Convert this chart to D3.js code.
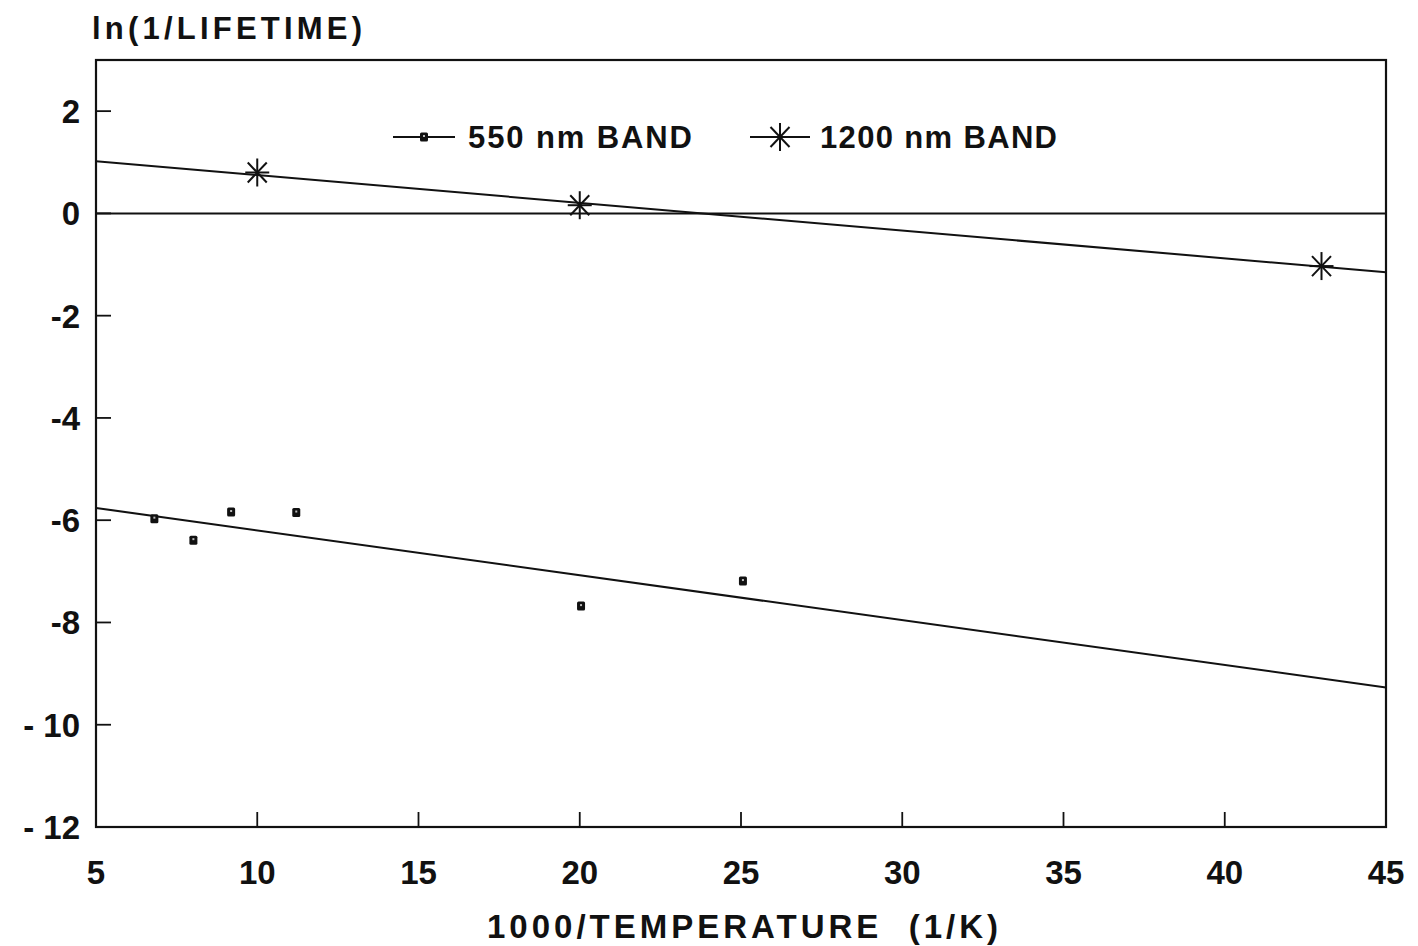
<!DOCTYPE html>
<html>
<head>
<meta charset="utf-8">
<script src="https://cdn.jsdelivr.net/npm/d3@7/dist/d3.min.js"></script>
<style>
  body { margin: 0; background: #fff; }
  text { font-family: "Liberation Sans", Arial, sans-serif; fill: #111; }
</style>
</head>
<body>
<div id="chart"></div>
<script>
'use strict';
// 550 nm band, measured points
var x550 = [6.81, 8.02, 9.19, 11.21, 20.04, 25.06];
var y550 = [-5.97, -6.39, -5.84, -5.85, -7.68, -7.19];
// fit line end values (at x = 5 and x = 45)
var fit550 = [-5.76, -9.27];

// 1200 nm band
var x1200 = [10, 20, 43];
var y1200 = [0.80, 0.16, -1.03];
var fit1200 = [1.02, -1.15];

var fitX = [5, 45];
var xTicks = [5, 10, 15, 20, 25, 30, 35, 40, 45];
var yTicks = [2, 0, -2, -4, -6, -8, -10, -12];
var yTickLabels = ["2", "0", "-2", "-4", "-6", "-8", "- 10", "- 12"];

var width = 1418, height = 946;
var pLeft = 96, pRight = 1386, pTop = 60, pBottom = 827;

var svg = d3.select("#chart").append("svg")
    .attr("width", width)
    .attr("height", height);

var x = d3.scaleLinear().domain([5, 45]).range([pLeft, pRight]);
var y = d3.scaleLinear().domain([-12, 3]).range([pBottom, pTop]);

svg.append("defs").append("clipPath").attr("id", "plot")
    .append("rect")
    .attr("x", pLeft).attr("y", pTop)
    .attr("width", pRight - pLeft).attr("height", pBottom - pTop);

// frame
svg.append("rect")
    .attr("x", pLeft).attr("y", pTop)
    .attr("width", pRight - pLeft).attr("height", pBottom - pTop)
    .attr("fill", "none")
    .attr("stroke", "#111")
    .attr("stroke-width", 2.2);

// y ticks, inside
svg.selectAll(".ytick")
    .data(yTicks.filter(function (d) { return d > -12; }))
    .enter().append("line")
    .attr("class", "ytick")
    .attr("x1", pLeft).attr("x2", pLeft + 15)
    .attr("y1", function (d) { return y(d); })
    .attr("y2", function (d) { return y(d); })
    .attr("stroke", "#111").attr("stroke-width", 1.8);

// x ticks, inside
svg.selectAll(".xtick")
    .data(xTicks.filter(function (d) { return d > 5 && d < 45; }))
    .enter().append("line")
    .attr("class", "xtick")
    .attr("x1", function (d) { return x(d); })
    .attr("x2", function (d) { return x(d); })
    .attr("y1", pBottom).attr("y2", pBottom - 15)
    .attr("stroke", "#111").attr("stroke-width", 1.8);

// tick labels
svg.selectAll(".ylab")
    .data(yTicks)
    .enter().append("text")
    .attr("class", "ylab")
    .attr("x", 80)
    .attr("y", function (d) { return y(d); })
    .attr("dy", "0.36em")
    .attr("text-anchor", "end")
    .attr("font-size", "33px")
    .attr("font-weight", "bold")
    .text(function (d, i) { return yTickLabels[i]; });

svg.selectAll(".xlab")
    .data(xTicks)
    .enter().append("text")
    .attr("class", "xlab")
    .attr("x", function (d) { return x(d); })
    .attr("y", 872)
    .attr("dy", "0.36em")
    .attr("text-anchor", "middle")
    .attr("font-size", "33px")
    .attr("font-weight", "bold")
    .text(function (d) { return d; });

// titles
svg.append("text")
    .attr("x", 92).attr("y", 39)
    .attr("font-size", "31px")
    .attr("font-weight", "bold")
    .attr("textLength", 270)
    .attr("lengthAdjust", "spacing")
    .text("ln(1/LIFETIME)");

svg.append("text")
    .attr("x", 487).attr("y", 938)
    .attr("font-size", "33px")
    .attr("font-weight", "bold")
    .attr("textLength", 511)
    .attr("lengthAdjust", "spacing")
    .style("white-space", "pre")
    .text("1000/TEMPERATURE  (1/K)");

var plot = svg.append("g").attr("clip-path", "url(#plot)");

// zero line
plot.append("line")
    .attr("x1", pLeft).attr("x2", pRight)
    .attr("y1", y(0)).attr("y2", y(0))
    .attr("stroke", "#111").attr("stroke-width", 2);

var line = d3.line()
    .x(function (d) { return x(d[0]); })
    .y(function (d) { return y(d[1]); });

plot.append("path")
    .attr("d", line(d3.zip(fitX, fit550)))
    .attr("fill", "none").attr("stroke", "#111").attr("stroke-width", 2);

plot.append("path")
    .attr("d", line(d3.zip(fitX, fit1200)))
    .attr("fill", "none").attr("stroke", "#111").attr("stroke-width", 2);

function square(g, cx, cy) {
    g.append("rect")
        .attr("x", cx - 4).attr("y", cy - 4.5)
        .attr("width", 8).attr("height", 9)
        .attr("rx", 1.5)
        .attr("fill", "#111");
    g.append("rect")
        .attr("x", cx - 1).attr("y", cy - 2)
        .attr("width", 2).attr("height", 2)
        .attr("fill", "#bbb");
}

function star(g, cx, cy) {
    var arms = [[0, -14, 0, 14], [-12, 0, 12, 0], [-9.5, -10, 9.5, 10], [-9.5, 10, 9.5, -10]];
    arms.forEach(function (a) {
        g.append("line")
            .attr("x1", cx + a[0]).attr("y1", cy + a[1])
            .attr("x2", cx + a[2]).attr("y2", cy + a[3])
            .attr("stroke", "#111").attr("stroke-width", 2);
    });
}

var pts = svg.append("g");
d3.zip(x550, y550).forEach(function (d) { square(pts, x(d[0]), y(d[1])); });
d3.zip(x1200, y1200).forEach(function (d) { star(pts, x(d[0]), y(d[1])); });

// legend
var legY = 137;
var leg = svg.append("g");
leg.append("line").attr("x1", 393).attr("x2", 455)
    .attr("y1", legY).attr("y2", legY)
    .attr("stroke", "#111").attr("stroke-width", 1.8);
square(leg, 424, legY);
leg.append("text")
    .attr("x", 468).attr("y", legY).attr("dy", "0.36em")
    .attr("font-size", "31px")
    .attr("font-weight", "bold")
    .attr("textLength", 224)
    .attr("lengthAdjust", "spacing")
    .text("550 nm BAND");

leg.append("line").attr("x1", 750).attr("x2", 810)
    .attr("y1", legY).attr("y2", legY)
    .attr("stroke", "#111").attr("stroke-width", 1.8);
star(leg, 780, legY);
leg.append("text")
    .attr("x", 820).attr("y", legY).attr("dy", "0.36em")
    .attr("font-size", "31px")
    .attr("font-weight", "bold")
    .attr("textLength", 237)
    .attr("lengthAdjust", "spacing")
    .text("1200 nm BAND");
</script>
</body>
</html>
